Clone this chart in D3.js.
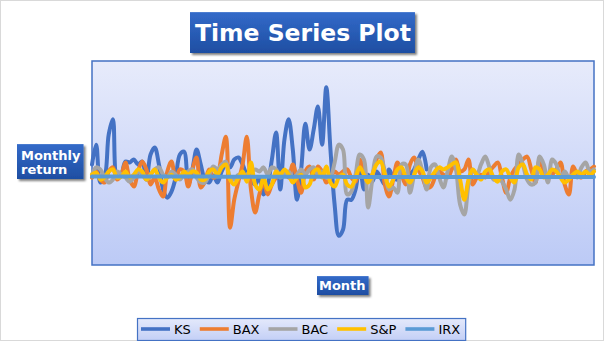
<!DOCTYPE html>
<html>
<head>
<meta charset="utf-8">
<script src="https://cdn.jsdelivr.net/npm/d3@7"></script>
<style>
  html, body { margin: 0; padding: 0; background: #fff; }
  svg { display: block; font-family: 'DejaVu Sans', sans-serif; }
</style>
</head>
<body>
<div id="main"></div>
<script>
// monthly returns
const KS = [0.045, 0.113, -0.017, 0, 0.148, 0.2, 0, 0.01, 0.055, 0.052,
  0.062, 0.045, 0.055, -0.007, 0.079, 0.103, 0.045, -0.041, -0.069, -0.048,
  0, 0.079, 0.089, -0.024, 0.028, 0.096, 0.045, -0.007, -0.017, 0.007,
  -0.017, 0.021, 0.045, 0.035, 0.062, 0.069, 0.045, 0.01, -0.007, -0.024,
  0, -0.058, -0.024, 0.062, 0.155, -0.041, 0.13, 0.2, 0.096, -0.076,
  0.028, 0.185, 0.096, 0.165, 0.244, 0.113, 0.31, 0.096, -0.093, -0.2,
  -0.179, -0.076, -0.076, -0.041, 0.045, -0.041, 0.01, -0.014, 0.021, 0,
  -0.024, 0.028, 0, -0.007, 0.021, -0.014, 0.01, 0.028, 0.062, 0.089, 0.028]

const BAX = [0, 0.021, -0.007, -0.017, 0.021, 0.035, -0.007, 0.01, 0.052, -0.007,
  -0.031, 0.021, 0.055, 0.028, -0.024, 0, -0.041, -0.065, 0.021, 0.055,
  -0.007, 0.028, 0.021, -0.031, 0.028, 0.069, -0.034, -0.014, 0.028, 0,
  0.01, 0.079, 0.14, -0.172, -0.076, -0.014, 0.045, 0.14, -0.041, -0.12,
  -0.058, -0.014, -0.058, -0.024, 0, 0.01, 0.021, 0, 0.045, -0.007,
  -0.052, 0.021, 0.038, -0.007, 0.038, 0.021, -0.017, 0, 0.021, 0.01,
  0.021, 0.028, 0, -0.014, 0.062, 0.021, -0.007, 0.01, 0.062, 0.086,
  -0.024, -0.065, -0.007, 0.052, 0.01, -0.024, 0.045, 0.069, 0.028, 0,
  -0.034, -0.031, 0, 0.021, 0.01, 0, 0.028, 0.062, 0.021, 0.028,
  0.062, -0.024, 0, 0.01, 0, 0.021, 0.038, 0.052, 0, -0.052,
  0, 0.028, 0.045, 0.062, 0.072, 0.028, -0.017, 0.062, 0.021, 0,
  0.01, 0.028, 0.052, -0.024, -0.058, 0.038, 0.01, 0, 0.021, 0.028, 0.038]

const BAC = [0.01, 0.035, 0.028, 0, -0.017, -0.007, 0.021, 0.01, 0, -0.014,
  0, 0.021, 0.01, -0.007, 0.01, 0.028, 0.035, 0.01, 0, 0.021,
  0.01, -0.007, 0.01, 0.021, 0.028, 0, -0.017, -0.017, 0.01, 0.038,
  0.028, 0.045, 0.055, 0, -0.007, 0.01, 0, 0.01, 0.021, 0.028,
  0.021, 0.035, 0.01, 0.035, 0.028, 0, 0.01, 0.021, 0, 0.01,
  0.028, 0.01, 0.028, 0.035, 0.01, 0.021, 0, 0.003, 0.052, 0.113,
  0.096, -0.058, -0.048, 0.01, 0.079, 0.062, -0.103, -0.007, 0.072, 0.069,
  0.021, -0.041, -0.034, -0.052, 0.045, 0.045, -0.052, 0.01, 0.062, 0.021,
  -0.041, 0.035, 0.045, 0, -0.034, 0.021, 0.072, 0.028, -0.093, -0.127,
  -0.024, 0.028, 0.01, 0.045, 0.072, 0.035, -0.007, 0, -0.014, -0.041,
  -0.076, -0.041, 0.079, 0.045, -0.007, -0.024, -0.017, 0.072, 0.045, -0.017,
  0.062, 0.045, 0, 0.021, 0, 0.01, 0, 0.035, 0.052, 0.021, 0.028]

const SP = [0.01, 0.017, -0.007, 0, 0.021, 0.028, 0, 0.003, 0.021, 0,
  0.01, 0.028, 0.021, -0.007, 0.01, 0.028, 0, -0.017, 0, 0.01,
  -0.007, 0, 0.021, 0.01, 0.021, 0.017, -0.007, -0.007, 0.021, 0.028,
  0.01, 0.035, 0.045, -0.007, -0.024, 0, 0.021, -0.014, 0.052, -0.024,
  -0.041, 0, -0.041, -0.024, 0.021, 0.01, 0.028, 0.01, -0.017, 0,
  0.01, -0.034, -0.024, 0.021, 0.028, 0, 0.038, -0.017, -0.031, 0,
  0.01, -0.024, -0.031, 0, 0.035, 0.01, -0.017, 0.01, 0.045, 0.055,
  0.01, -0.031, -0.007, 0.028, 0.035, 0, -0.017, 0.01, 0.035, 0.021,
  -0.017, 0, 0.021, 0.035, 0.028, 0.035, 0.045, 0.052, -0.007, -0.076,
  -0.007, 0.028, 0.01, -0.007, 0.021, 0.028, 0, -0.014, 0.021, 0.028,
  0, -0.017, 0.035, 0.045, 0.01, -0.007, 0.035, 0.028, 0, 0.01,
  0.028, 0.021, 0, -0.017, -0.007, 0.01, 0.021, 0.01, 0.021, 0.01, 0.021]

const IRX = [0.004, 0.004, 0.004, 0.004, 0.004, 0.004, 0.004, 0.004, 0.004, 0.004,
  0.004, 0.004, 0.004, 0.004, 0.004, 0.004, 0.004, 0.004, 0.004, 0.004,
  0.004, 0.004, 0.004, 0.004, 0.004, 0.004, 0.004, 0.004, 0.004, 0.004,
  0.003, 0.003, 0.003, 0.003, 0.003, 0.003, 0.003, 0.003, 0.003, 0.003,
  0.003, 0.003, 0.003, 0.003, 0.003, 0.003, 0.003, 0.003, 0.003, 0.003,
  0.003, 0.003, 0.003, 0.003, 0.003, 0.003, 0.003, 0.003, 0.003, 0.003,
  0.002, 0.002, 0.002, 0.002, 0.002, 0.002, 0.002, 0.002, 0.002, 0.002,
  0.002, 0.002, 0.002, 0.002, 0.002, 0.002, 0.002, 0.002, 0.002, 0.002,
  0.002, 0.002, 0.002, 0.002, 0.002, 0.002, 0.002, 0.002, 0.002, 0.002,
  0.002, 0.002, 0.002, 0.002, 0.002, 0.002, 0.002, 0.002, 0.002, 0.002,
  0.002, 0.002, 0.002, 0.002, 0.002, 0.002, 0.002, 0.002, 0.002, 0.002,
  0.002, 0.002, 0.002, 0.002, 0.002, 0.002, 0.002, 0.002, 0.002, 0.002, 0.002]

const seriesNames = ['KS', 'BAX', 'BAC', 'S&P', 'IRX']
const seriesValues = [KS, BAX, BAC, SP, IRX]
const seriesColors = ['#4472c4', '#ed7d31', '#a5a5a5', '#ffc000', '#5b9bd5']
const numMonths = BAX.length

const width = 605
const height = 341
const plot = { left: 92, top: 61, right: 594, bottom: 265 }

const svg = d3.select('#main').append('svg')
  .attr('width', width)
  .attr('height', height)

const defs = svg.append('defs')

function vGradient (id, top, bottom) {
  const g = defs.append('linearGradient').attr('id', id)
    .attr('x1', 0).attr('y1', 0).attr('x2', 0).attr('y2', 1)
  g.append('stop').attr('offset', '0%').attr('stop-color', top)
  g.append('stop').attr('offset', '100%').attr('stop-color', bottom)
}
vGradient('plotBg', '#e7ebfb', '#bccaf6')
vGradient('legendBg', '#e4e9fb', '#c3cff6')
vGradient('boxBg', '#336ac9', '#1e4ea2')

defs.append('filter').attr('id', 'shadow')
  .attr('x', '-10%').attr('y', '-10%').attr('width', '130%').attr('height', '140%')
  .append('feDropShadow')
  .attr('dx', 2).attr('dy', 2).attr('stdDeviation', 0.8)
  .attr('flood-color', '#000').attr('flood-opacity', 0.5)

// chart border
svg.append('rect')
  .attr('x', 0.5).attr('y', 0.5)
  .attr('width', width - 2).attr('height', height - 1)
  .attr('fill', '#fff')
  .attr('stroke', '#d9d9d9')

// plot area
svg.append('rect')
  .attr('x', plot.left).attr('y', plot.top)
  .attr('width', plot.right - plot.left).attr('height', plot.bottom - plot.top)
  .attr('fill', 'url(#plotBg)')
  .attr('stroke', '#4472c4')
  .attr('stroke-width', 1.5)

const x = d3.scaleLinear()
  .domain([0, numMonths - 1])
  .range([plot.left, plot.right])

const y = d3.scaleLinear()
  .domain([-0.3, 0.4])
  .range([plot.bottom, plot.top])

const line = d3.line()
  .x((d, i) => x(i))
  .y(d => y(d))
  .curve(d3.curveCatmullRom)

const gLines = svg.append('g').attr('class', 'lines')
gLines.selectAll('path')
  .data(seriesValues)
  .enter()
  .append('path')
  .attr('d', d => line(d))
  .attr('fill', 'none')
  .attr('stroke', (d, i) => seriesColors[i])
  .attr('stroke-width', 4)
  .attr('stroke-linejoin', 'round')
  .attr('stroke-linecap', 'round')

// blue label boxes
function labelBox (lines, x0, y0, size, lineH, pad) {
  const g = svg.append('g')
  const rect = g.append('rect')
  const texts = lines.map((t, i) => g.append('text')
    .attr('x', x0)
    .attr('y', y0 + i * lineH)
    .attr('fill', '#fff')
    .attr('font-weight', 'bold')
    .attr('font-size', size)
    .text(t))
  const w = d3.max(texts, t => t.node().getComputedTextLength())
  rect.attr('x', x0 - pad.l)
    .attr('y', y0 - size * 0.76 - pad.t)
    .attr('width', w + pad.l + pad.r)
    .attr('height', size * 0.76 + (lines.length - 1) * lineH + pad.t + pad.b)
    .attr('fill', 'url(#boxBg)')
    .attr('filter', 'url(#shadow)')
}

labelBox(['Time Series Plot'], 195, 41, 23.5, 0, { l: 5, r: 4, t: 11, b: 12 })
labelBox(['Monthly', 'return'], 21, 160, 13, 14, { l: 4, r: 3, t: 6, b: 5 })
labelBox(['Month'], 319, 290, 13, 0, { l: 2, r: 3, t: 4, b: 5 })

// legend
const legend = svg.append('g').attr('class', 'legend')
const legendRect = legend.append('rect')
let lx = 141
const ly = 329
seriesNames.forEach((name, i) => {
  legend.append('line')
    .attr('x1', lx).attr('x2', lx + 29)
    .attr('y1', ly).attr('y2', ly)
    .attr('stroke', seriesColors[i])
    .attr('stroke-width', 3.6)
  const t = legend.append('text')
    .attr('x', lx + 33)
    .attr('y', ly + 5)
    .attr('font-size', 13)
    .attr('fill', '#000')
    .text(name)
  lx += 33 + t.node().getComputedTextLength() + 9
})
legendRect
  .attr('x', 137.5).attr('y', 318.5)
  .attr('width', lx - 137 - 4).attr('height', 22)
  .attr('fill', 'url(#legendBg)')
  .attr('stroke', '#4472c4')
  .attr('stroke-width', 1.2)
</script>
</body>
</html>
